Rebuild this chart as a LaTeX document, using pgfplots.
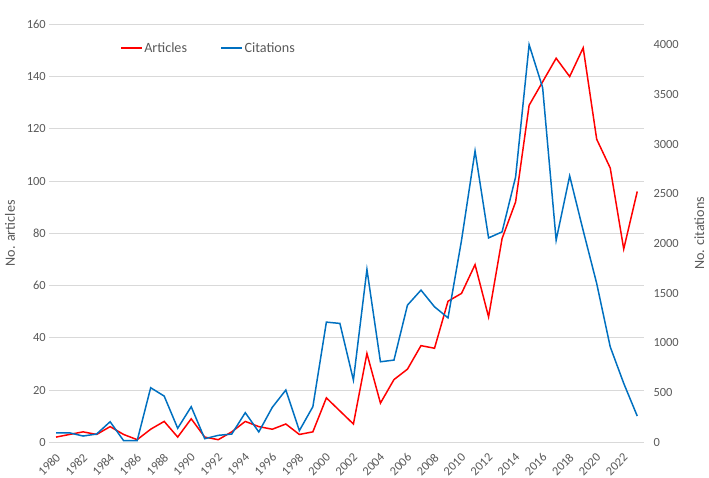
\documentclass[border=0pt]{standalone}
\usepackage{pgfplots}
\pgfplotsset{compat=1.18}
\usepackage{pgfplotstable}
\usepackage{fontspec}
\setmainfont{Carlito}
\definecolor{tickgray}{HTML}{595959}
\definecolor{gridgray}{HTML}{D9D9D9}
\definecolor{artred}{HTML}{FF0000}
\definecolor{citblue}{HTML}{0070C0}

\pgfplotstableread{
year articles
1980 2
1981 3
1982 4
1983 3
1984 6
1985 3
1986 1
1987 5
1988 8
1989 2
1990 9
1991 2
1992 1
1993 4
1994 8
1995 6
1996 5
1997 7
1998 3
1999 4
2000 17
2001 12
2002 7
2003 34
2004 15
2005 24
2006 28
2007 37
2008 36
2009 54
2010 57
2011 68
2012 48
2013 78
2014 92
2015 129
2016 138
2017 147
2018 140
2019 151
2020 116
2021 105
2022 74
2023 96
}\articles

\pgfplotstableread{
year citations
1980 95
1981 95
1982 63
1983 83
1984 207
1985 16
1986 16
1987 549
1988 465
1989 141
1990 358
1991 36
1992 70
1993 83
1994 298
1995 104
1996 352
1997 526
1998 117
1999 358
2000 1209
2001 1196
2002 626
2003 1739
2004 810
2005 827
2006 1380
2007 1531
2008 1363
2009 1252
2010 2033
2011 2931
2012 2056
2013 2117
2014 2669
2015 4000
2016 3568
2017 2033
2018 2680
2019 2130
2020 1598
2021 961
2022 593
2023 264
}\citations

\pgfplotsset{
  common/.style={
    scale only axis,
    width=594.7bp, height=418bp,
    xmin=1979.5, xmax=2023.5,
    axis line style={draw=none},
    major tick length=0pt,
    tick label style={font=\fontsize{12.5}{14}\selectfont, text=tickgray},
    /pgf/number format/assume math mode=true,
    /pgf/number format/1000 sep={},
  }
}

\begin{document}
\begin{tikzpicture}
\begin{axis}[common, name=ax,
  ymin=0, ymax=160, ytick={0,20,...,160},
  ymajorgrids, grid style={gridgray, line width=0.8pt},
  xtick={1980,1982,...,2022},
  xticklabel style={xshift=-1bp, yshift=-10bp, rotate=45, anchor=north east, inner sep=0pt},
  ylabel={No. articles},
  every axis y label/.style={at={(axis description cs:-0.066,0.5)}, rotate=90, anchor=center,
    font=\fontsize{14.2}{16}\selectfont, text=tickgray},
  legend style={at={(0.119,0.943)}, anchor=west, draw=none, fill=none, inner sep=0pt,
    font=\fontsize{14.2}{16}\selectfont, text=tickgray,
    nodes={inner sep=1.5bp},
    /tikz/column 2/.style={column sep=32bp}},
  legend columns=2,
  legend image code/.code={\draw[#1] (0bp,0bp) -- (21bp,0bp);},
]
\addplot[artred, line width=1.5pt] table[x=year, y=articles] {\articles};
\addlegendentry{Articles}
\addlegendimage{citblue, line width=1.5pt}
\addlegendentry{Citations}
\end{axis}
\begin{axis}[common,
  ymin=0, ymax=4205, ytick={0,500,...,4000},
  axis y line*=right, hide x axis,
  yticklabel style={anchor=west, xshift=6bp},
  ylabel={No. citations},
  every axis y label/.style={at={(axis description cs:1.093,0.5)}, rotate=90, anchor=center,
    font=\fontsize{14.2}{16}\selectfont, text=tickgray},
]
\addplot[citblue, line width=1.5pt] table[x=year, y=citations] {\citations};
\end{axis}
\pgfresetboundingbox
\path[use as bounding box] (ax.south west) ++(-49.3bp,-35.7bp) rectangle ++(709bp,478bp);
\end{tikzpicture}
\end{document}
